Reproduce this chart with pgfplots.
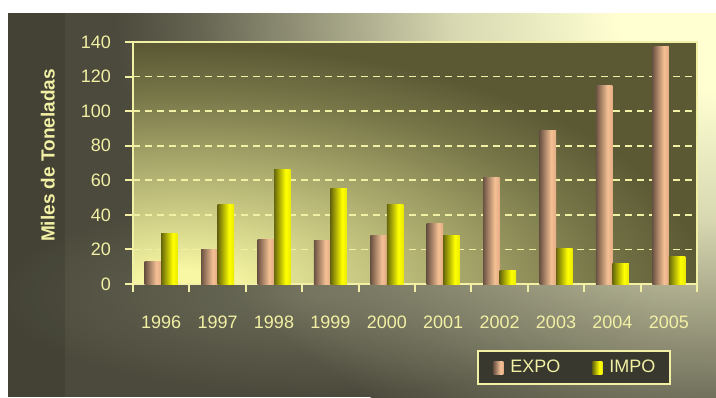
\documentclass[border=0pt]{standalone}
\usepackage{fontspec}
\setmainfont{Liberation Sans}
\usepackage{pgfplots}
\pgfplotsset{compat=1.18}
\usetikzlibrary{fadings}
\tikzfading[name=softglow, inner color=transparent!0, outer color=transparent!100]
\definecolor{axcol}{HTML}{F2F0A4}
\definecolor{bgdark}{HTML}{4B4A3C}
\definecolor{bglight}{HTML}{FFFFD2}
\definecolor{bandcol}{HTML}{8A8A72}
\colorlet{bgA}{bglight!78!bgdark}
\colorlet{bgB}{bglight!52!bgdark}
\colorlet{bgC}{bglight!15!bgdark}
\definecolor{padark}{HTML}{5A5934}
\definecolor{palight}{HTML}{F8F8A4}
\colorlet{paA}{palight!89!padark}
\colorlet{paB}{palight!43!padark}
\colorlet{paC}{palight!19!padark}
\definecolor{legbg}{HTML}{38382E}
\definecolor{expoD}{HTML}{6A5242}
\definecolor{expoL}{HTML}{F4C094}
\definecolor{expoR}{HTML}{E4AC84}
\definecolor{impoD}{HTML}{66660C}
\definecolor{impoL}{HTML}{FFFF00}
\definecolor{impoR}{HTML}{EAEA00}
\pgfdeclarehorizontalshading{expocyl}{100bp}{color(0bp)=(expoD); color(25bp)=(expoD); color(60bp)=(expoL); color(75bp)=(expoR); color(100bp)=(expoR)}
\pgfdeclarehorizontalshading{impocyl}{100bp}{color(0bp)=(impoD); color(25bp)=(impoD); color(60bp)=(impoL); color(75bp)=(impoR); color(100bp)=(impoR)}
\pgfdeclareradialshading{bgglow}{\pgfpointorigin}{color(0bp)=(bglight); color(4bp)=(bglight); color(11bp)=(bgA); color(15.25bp)=(bgB); color(21.5bp)=(bgC); color(25bp)=(bgdark); color(50bp)=(bgdark)}
\pgfdeclareradialshading{paglow}{\pgfpointorigin}{color(0bp)=(palight); color(2bp)=(palight); color(4.2bp)=(paA); color(14.6bp)=(paB); color(19.8bp)=(paC); color(25bp)=(padark); color(50bp)=(padark)}
\begin{document}
\begin{tikzpicture}
\begin{scope}[x=0.5pt,y=-0.5pt]
\useasboundingbox (0,0) rectangle (716,397);
\fill[white] (0,0) rectangle (716,397);
\begin{scope}
\clip (8,13) rectangle (716,397);
\fill[bgdark] (8,13) rectangle (716,397);
\shade[shading=bgglow] (716,13) ellipse [x radius=600, y radius=470];
\fill[bandcol, path fading=softglow, opacity=0.55] (320,295) ellipse [x radius=330, y radius=100];
\fill[black, opacity=0.1] (8,13) rectangle (65,397);
\end{scope}
\begin{scope}
\clip (133,42) rectangle (697,284);
\fill[padark] (133,42) rectangle (697,284);
\shade[shading=paglow] (185,290) ellipse [x radius=520, y radius=245];
\end{scope}
\end{scope}
\begin{axis}[
  at={(66.5pt,-142pt)}, anchor=south west,
  scale only axis, width=282pt, height=121pt,
  ymin=0, ymax=140, ytick={0,20,...,140},
  xmin=-0.5, xmax=9.5,
  xtick={-0.5,0.5,...,9.5},
  xticklabels={},
  minor xtick={-0.5,0.5,...,9.5},
  minor tick length=4pt,
  minor x tick style={draw=axcol, line width=1pt},
  extra x ticks={0,1,...,9},
  extra x tick labels={1996,1997,1998,1999,2000,2001,2002,2003,2004,2005},
  extra x tick style={major tick length=0pt, xticklabel style={yshift=-12.5pt}},
  bar width=8.25pt,
  expo/.style={ybar, draw=none, shading=expocyl, bar shift=-4.125pt},
  impo/.style={ybar, draw=none, shading=impocyl, bar shift=4.125pt},
  axis line style={draw=axcol, line width=1pt},
  tick align=outside, major tick length=4pt,
  xtick pos=bottom, ytick pos=left,
  xtick style={draw=axcol, line width=1pt, opacity=1},
  ytick style={draw=axcol, line width=1pt},
  ymajorgrids,
  grid style={draw=axcol, line width=0.9pt, dash pattern=on 3.5pt off 2.5pt},
  /pgf/number format/assume math mode=true,
  tick label style={font=\fontsize{9}{11}\selectfont, text=axcol},
  yticklabel style={xshift=-3.5pt},
  ylabel={Miles de Toneladas},
  every axis y label/.style={at={(axis description cs:-0.151,0.531)}, rotate=90, anchor=center, font=\fontsize{9.5}{11}\selectfont\bfseries, text=axcol},
  legend columns=2,
  legend style={at={(0.7825,-0.345)}, anchor=center, fill=legbg, draw=axcol, line width=1pt, text=axcol, font=\fontsize{9}{11}\selectfont, inner xsep=5.5pt, inner ysep=2.5pt, /tikz/every even column/.append style={column sep=12pt}},
  legend image code/.code={\path[#1] (2pt,-3.25pt) rectangle (7pt,3.25pt); \path (0pt,0pt) (8.5pt,0pt);},
]
\addplot[expo] coordinates {(0,13)};
\addlegendentry{EXPO}
\addplot[impo] coordinates {(0,29)};
\addlegendentry{IMPO}
\addplot[expo, forget plot] coordinates {(1,20)};
\addplot[expo, forget plot] coordinates {(2,26)};
\addplot[expo, forget plot] coordinates {(3,25)};
\addplot[expo, forget plot] coordinates {(4,28)};
\addplot[expo, forget plot] coordinates {(5,35)};
\addplot[expo, forget plot] coordinates {(6,61.5)};
\addplot[expo, forget plot] coordinates {(7,89)};
\addplot[expo, forget plot] coordinates {(8,115)};
\addplot[expo, forget plot] coordinates {(9,137.5)};
\addplot[impo, forget plot] coordinates {(1,46)};
\addplot[impo, forget plot] coordinates {(2,66.5)};
\addplot[impo, forget plot] coordinates {(3,55)};
\addplot[impo, forget plot] coordinates {(4,46)};
\addplot[impo, forget plot] coordinates {(5,28)};
\addplot[impo, forget plot] coordinates {(6,7.7)};
\addplot[impo, forget plot] coordinates {(7,20.5)};
\addplot[impo, forget plot] coordinates {(8,12)};
\addplot[impo, forget plot] coordinates {(9,16)};
\end{axis}
\end{tikzpicture}
\end{document}
